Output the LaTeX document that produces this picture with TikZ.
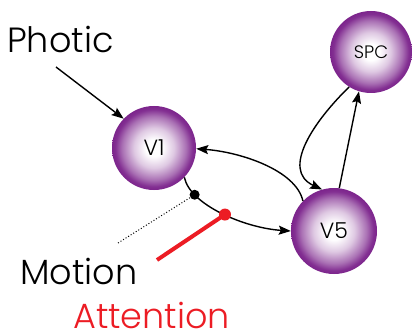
\documentclass[tikz,border=0pt]{standalone}
\usepackage{fontspec}
\setmainfont{Poppins}[UprightFont={* Light}]
\usetikzlibrary{arrows.meta}
\definecolor{pur}{RGB}{124,36,140}
\definecolor{attred}{RGB}{236,28,36}
\pgfdeclareradialshading{sphere}{\pgfpoint{0bp}{0bp}}{%
  color(0bp)=(white); color(5bp)=(white);
  color(12bp)=(pur!25!white); color(19bp)=(pur!65!white);
  color(23bp)=(pur!95!white); color(25bp)=(pur); color(50bp)=(pur)}
\tikzset{
  ball/.style={circle, shading=sphere, minimum size=#1, inner sep=0pt, text=black},
  lbl/.style={font=\fontsize{35}{37}\selectfont, anchor=base west, inner sep=0pt},
  conn/.style={line width=1.4pt, -{Stealth[length=12pt,width=9pt,inset=2pt]}},
}
\begin{document}
\begin{tikzpicture}[x=1pt,y=-1pt]
\useasboundingbox (0,0) rectangle (412,334);
\node[ball=84pt, font=\fontsize{22}{24}\selectfont] (V1) at (154,148) {V1};
\node[ball=86pt, font=\fontsize{22}{24}\selectfont] (V5) at (334,231) {V5};
\node[ball=82pt, font=\fontsize{18}{20}\selectfont] (SPC) at (371,52) {SPC};
\node[lbl] (photic) at (7,53) {Photic};
\node[lbl] (motion) at (20,284) {Motion};
\node[lbl, text=attred] (attention) at (73,328) {Attention};
\coordinate (ptail) at (56,67);
\coordinate (dotend) at (118,243);
\coordinate (redend) at (157,260);
\draw[conn] (ptail) -- (V1.136);
\draw[conn] (V1.-44) .. controls (190,205) and (245,228) .. (V5.180)
  coordinate[pos=0.22] (bdot) coordinate[pos=0.52] (rdot);
\draw[conn] (V5.136) .. controls (296,170) and (240,152) .. (V1.-1);
\draw[conn] (SPC.-122) .. controls (315,120) and (280,170) .. (V5.106);
\draw[conn] (V5.83) -- (SPC.-107);
\draw[line width=1pt, dotted] (dotend) -- (bdot);
\fill (bdot) circle (5pt);
\draw[line width=4pt, attred] (redend) -- (rdot);
\fill[attred] (rdot) circle (6pt);
\end{tikzpicture}
\end{document}
